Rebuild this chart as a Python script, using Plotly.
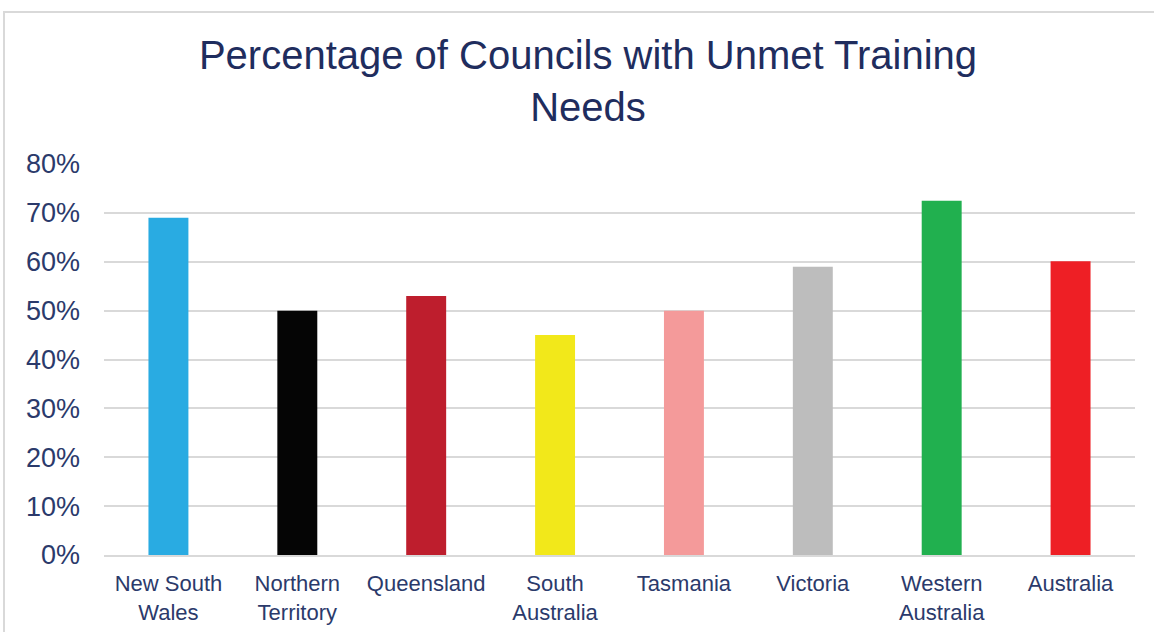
import plotly.graph_objects as go

# data
regions = ["New South<br>Wales", "Northern<br>Territory", "Queensland", "South<br>Australia",
           "Tasmania", "Victoria", "Western<br>Australia", "Australia"]
pct_unmet = [0.69, 0.50, 0.53, 0.45, 0.50, 0.59, 0.725, 0.601]
bar_colors = ["#29ABE2", "#050505", "#BE1E2D", "#F2E81A",
              "#F49A9A", "#BDBDBD", "#21B04F", "#EE1F25"]
y_ticks = [0, 0.1, 0.2, 0.3, 0.4, 0.5, 0.6, 0.7, 0.8]

NAVY = "#1F2D5E"
TICK = "#2B3A6B"
GRID = "#D9D9D9"

W, H = 1154, 632
ML, MR, MT, MB = 104, 19, 164, 77

fig = go.Figure(go.Bar(
    x=regions,
    y=pct_unmet,
    marker=dict(color=bar_colors, line=dict(width=0)),
    width=0.31,
    hoverinfo="skip",
))

fig.update_layout(
    width=W, height=H,
    paper_bgcolor="white",
    plot_bgcolor="white",
    font=dict(family="Arial, 'Liberation Sans', sans-serif", color=TICK),
    margin=dict(l=ML, r=MR, t=MT, b=MB, pad=0),
    showlegend=False,
    title=dict(
        text="Percentage of Councils with Unmet Training<br>Needs",
        font=dict(size=40, color=NAVY),
        x=588 / W, xanchor="center",
        y=1 - 69 / H, yanchor="top", yref="container",
    ),
    xaxis=dict(
        showgrid=False, zeroline=False,
        showline=True, linecolor=GRID, linewidth=2,
        tickfont=dict(size=22, color=TICK),
        ticklabelstandoff=8,
        automargin=False,
        fixedrange=True,
    ),
    yaxis=dict(
        range=[0, 0.8],
        tickvals=y_ticks,
        tickformat=".0%",
        showgrid=True, gridcolor=GRID, gridwidth=2,
        zeroline=False, showline=False,
        tickfont=dict(size=27, color=TICK),
        ticklabelstandoff=23,
        automargin=False,
        fixedrange=True,
    ),
    shapes=[
        # light grey chart frame (top and left edges visible)
        dict(type="rect", xref="paper", yref="paper",
             x0=(4 - ML) / (W - ML - MR), x1=1.2,
             y0=-0.5, y1=(H - MB - 12) / (H - MT - MB),
             line=dict(color=GRID, width=2), layer="below"),
    ],
)

fig.write_html("out.html", config={"displayModeBar": False},
               post_script="document.body.style.margin='0';")
